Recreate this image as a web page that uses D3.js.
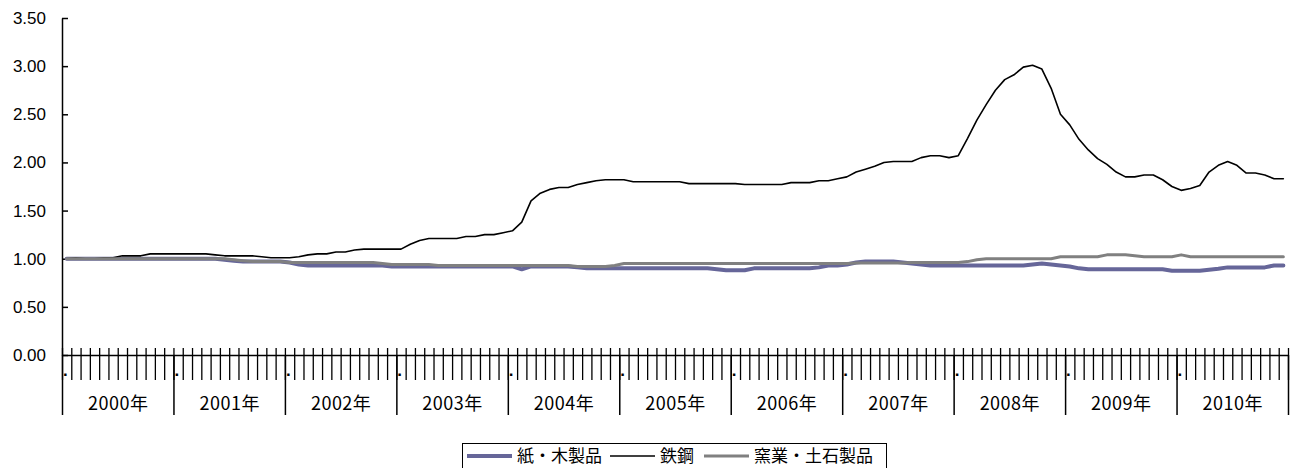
<!DOCTYPE html>
<html><head><meta charset="utf-8">
<script src="https://cdn.jsdelivr.net/npm/d3@7"></script>
<style>
html,body{margin:0;padding:0;background:#fff;}
svg{display:block;}
</style></head>
<body>
<svg id="chart" width="1293" height="468"></svg>
<script>
const years = ["2000年","2001年","2002年","2003年","2004年","2005年","2006年","2007年","2008年","2009年","2010年"];
const seriesNames = ["紙・木製品","鉄鋼","窯業・土石製品"];
const yTicks = [0,0.5,1,1.5,2,2.5,3,3.5];

const paper = [
 1.00,1.00,1.00,1.00,1.00,1.00,1.00,1.00,1.00,1.00,1.00,1.00,
 1.00,1.00,1.00,1.00,1.00,0.99,0.98,0.97,0.97,0.97,0.97,0.97,
 0.96,0.94,0.93,0.93,0.93,0.93,0.93,0.93,0.93,0.93,0.93,0.92,
 0.92,0.92,0.92,0.92,0.92,0.92,0.92,0.92,0.92,0.92,0.92,0.92,
 0.92,0.89,0.92,0.92,0.92,0.92,0.92,0.91,0.90,0.90,0.90,0.90,
 0.90,0.90,0.90,0.90,0.90,0.90,0.90,0.90,0.90,0.90,0.89,0.88,
 0.88,0.88,0.90,0.90,0.90,0.90,0.90,0.90,0.90,0.91,0.93,0.93,
 0.94,0.96,0.97,0.97,0.97,0.97,0.96,0.95,0.94,0.93,0.93,0.93,
 0.93,0.93,0.93,0.93,0.93,0.93,0.93,0.93,0.94,0.95,0.94,0.93,
 0.92,0.90,0.89,0.89,0.89,0.89,0.89,0.89,0.89,0.89,0.89,0.875,
 0.875,0.875,0.875,0.885,0.895,0.91,0.91,0.91,0.91,0.91,0.93,0.93
];
const steel = [
 1.00,1.01,1.00,1.00,1.01,1.01,1.03,1.03,1.03,1.05,1.05,1.05,
 1.05,1.05,1.05,1.05,1.04,1.03,1.03,1.03,1.03,1.02,1.01,1.01,
 1.01,1.02,1.04,1.05,1.05,1.07,1.07,1.09,1.10,1.10,1.10,1.10,
 1.10,1.15,1.19,1.21,1.21,1.21,1.21,1.23,1.23,1.25,1.25,1.27,
 1.29,1.38,1.60,1.68,1.72,1.74,1.74,1.77,1.79,1.81,1.82,1.82,
 1.82,1.80,1.80,1.80,1.80,1.80,1.80,1.78,1.78,1.78,1.78,1.78,
 1.78,1.77,1.77,1.77,1.77,1.77,1.79,1.79,1.79,1.81,1.81,1.83,
 1.85,1.90,1.93,1.96,2.00,2.01,2.01,2.01,2.05,2.07,2.07,2.05,
 2.07,2.25,2.44,2.60,2.75,2.86,2.91,2.99,3.01,2.97,2.77,2.50,
 2.39,2.24,2.13,2.04,1.98,1.90,1.85,1.85,1.87,1.87,1.82,1.75,
 1.71,1.73,1.76,1.90,1.97,2.01,1.97,1.89,1.89,1.87,1.83,1.83
];
const ceramic = [
 1.00,1.00,1.00,1.00,1.00,1.00,1.00,1.00,1.00,1.00,1.00,1.00,
 1.00,1.00,1.00,1.00,1.00,1.00,0.99,0.98,0.97,0.97,0.97,0.97,
 0.96,0.96,0.96,0.96,0.96,0.96,0.96,0.96,0.96,0.96,0.95,0.94,
 0.94,0.94,0.94,0.94,0.93,0.93,0.93,0.93,0.93,0.93,0.93,0.93,
 0.93,0.93,0.93,0.93,0.93,0.93,0.93,0.92,0.92,0.92,0.92,0.93,
 0.95,0.95,0.95,0.95,0.95,0.95,0.95,0.95,0.95,0.95,0.95,0.95,
 0.95,0.95,0.95,0.95,0.95,0.95,0.95,0.95,0.95,0.95,0.95,0.95,
 0.95,0.955,0.955,0.955,0.955,0.955,0.955,0.96,0.96,0.96,0.96,0.96,
 0.96,0.97,0.99,1.00,1.00,1.00,1.00,1.00,1.00,1.00,1.00,1.02,
 1.02,1.02,1.02,1.02,1.04,1.04,1.04,1.03,1.02,1.02,1.02,1.02,
 1.04,1.02,1.02,1.02,1.02,1.02,1.02,1.02,1.02,1.02,1.02,1.02
];

const months = d3.range(years.length * 12);
const svg = d3.select("#chart");
const L = 62, R = 1288, T = 18, B = 355;

const x = d3.scaleBand().domain(months).range([L, R]).padding(0);
const xb = d3.scaleLinear().domain([0, months.length]).range([L, R]);
const y = d3.scaleLinear().domain([0, 3.5]).range([B, T]);

const numFont = "'Liberation Sans', Arial, sans-serif";
const jpFont = "'Noto Sans CJK JP', sans-serif";

// Y axis
const yAxis = d3.axisLeft(y).tickValues(yTicks).tickFormat(d3.format(".2f"))
  .tickSizeInner(-6).tickSizeOuter(0).tickPadding(16);
const gy = svg.append("g").attr("transform", `translate(${L},0)`).call(yAxis);
gy.select(".domain").attr("stroke", "#000").attr("stroke-width", 1.5);
gy.selectAll(".tick line").attr("stroke", "#000").attr("stroke-width", 1.5);
gy.selectAll("text").attr("font-family", numFont).attr("font-size", 17).attr("fill", "#000");

// X axis: month ticks below and above
const monthAxisDown = d3.axisBottom(xb).tickValues(d3.range(0, months.length + 1))
  .tickSizeInner(25).tickSizeOuter(0).tickFormat("");
const gxd = svg.append("g").attr("transform", `translate(0,${B})`).call(monthAxisDown);
gxd.select(".domain").attr("stroke", "#000").attr("stroke-width", 1.5);
gxd.selectAll(".tick line").attr("stroke", "#000").attr("stroke-width", 1.3);

const monthAxisUp = d3.axisTop(xb).tickValues(d3.range(0, months.length + 1))
  .tickSizeInner(7).tickSizeOuter(0).tickFormat("");
const gxu = svg.append("g").attr("transform", `translate(0,${B})`).call(monthAxisUp);
gxu.select(".domain").remove();
gxu.selectAll(".tick line").attr("stroke", "#000").attr("stroke-width", 1.3);

// Year boundaries
const yearAxis = d3.axisBottom(xb).tickValues(d3.range(0, months.length + 1, 12))
  .tickSizeInner(60).tickSizeOuter(0).tickFormat("");
const gyb = svg.append("g").attr("transform", `translate(0,${B})`).call(yearAxis);
gyb.select(".domain").remove();
gyb.selectAll(".tick line").attr("stroke", "#000").attr("stroke-width", 1.5);

// month label dots (first month of each year)
svg.append("g").selectAll("text").data(years).join("text")
  .attr("x", (d, i) => xb(i * 12) + 1)
  .attr("y", 376)
  .attr("font-family", numFont).attr("font-size", 17).attr("font-weight", "bold")
  .attr("fill", "#000").text(".");

// Year labels
const yearLabelAxis = d3.axisBottom(xb).tickValues(d3.range(6, months.length, 12))
  .tickSize(0).tickPadding(42).tickFormat((d, i) => years[i]);
const gyl = svg.append("g").attr("transform", `translate(0,${B})`).call(yearLabelAxis);
gyl.select(".domain").remove();
gyl.selectAll("text").attr("font-family", jpFont).attr("font-size", 18)
  .attr("letter-spacing", "0.5px").attr("fill", "#000");

// Lines
const line = d3.line().x((d, i) => x(i) + x.bandwidth() / 2).y(d => y(d));
const styles = [
  {data: paper, color: "#666699", w: 4},
  {data: steel, color: "#000000", w: 1.6},
  {data: ceramic, color: "#808080", w: 3}
];
styles.forEach(s => {
  svg.append("path").datum(s.data).attr("d", line)
    .attr("fill", "none").attr("stroke", s.color).attr("stroke-width", s.w)
    .attr("stroke-linejoin", "round").attr("stroke-linecap", "round");
});

// Legend
const lg = svg.append("g");
lg.append("rect").attr("x", 462.5).attr("y", 443.5).attr("width", 424).attr("height", 40)
  .attr("fill", "#fff").attr("stroke", "#000").attr("stroke-width", 1);
const legendItems = [
  {name: seriesNames[0], x0: 467, color: "#666699", w: 4},
  {name: seriesNames[1], x0: 610, color: "#000000", w: 1.6},
  {name: seriesNames[2], x0: 704, color: "#808080", w: 3}
];
legendItems.forEach(it => {
  lg.append("line").attr("x1", it.x0).attr("x2", it.x0 + 45).attr("y1", 456).attr("y2", 456)
    .attr("stroke", it.color).attr("stroke-width", it.w);
  lg.append("text").attr("x", it.x0 + 50).attr("y", 462)
    .attr("font-family", jpFont).attr("font-size", 17).attr("fill", "#000").text(it.name);
});
</script>
</body></html>
